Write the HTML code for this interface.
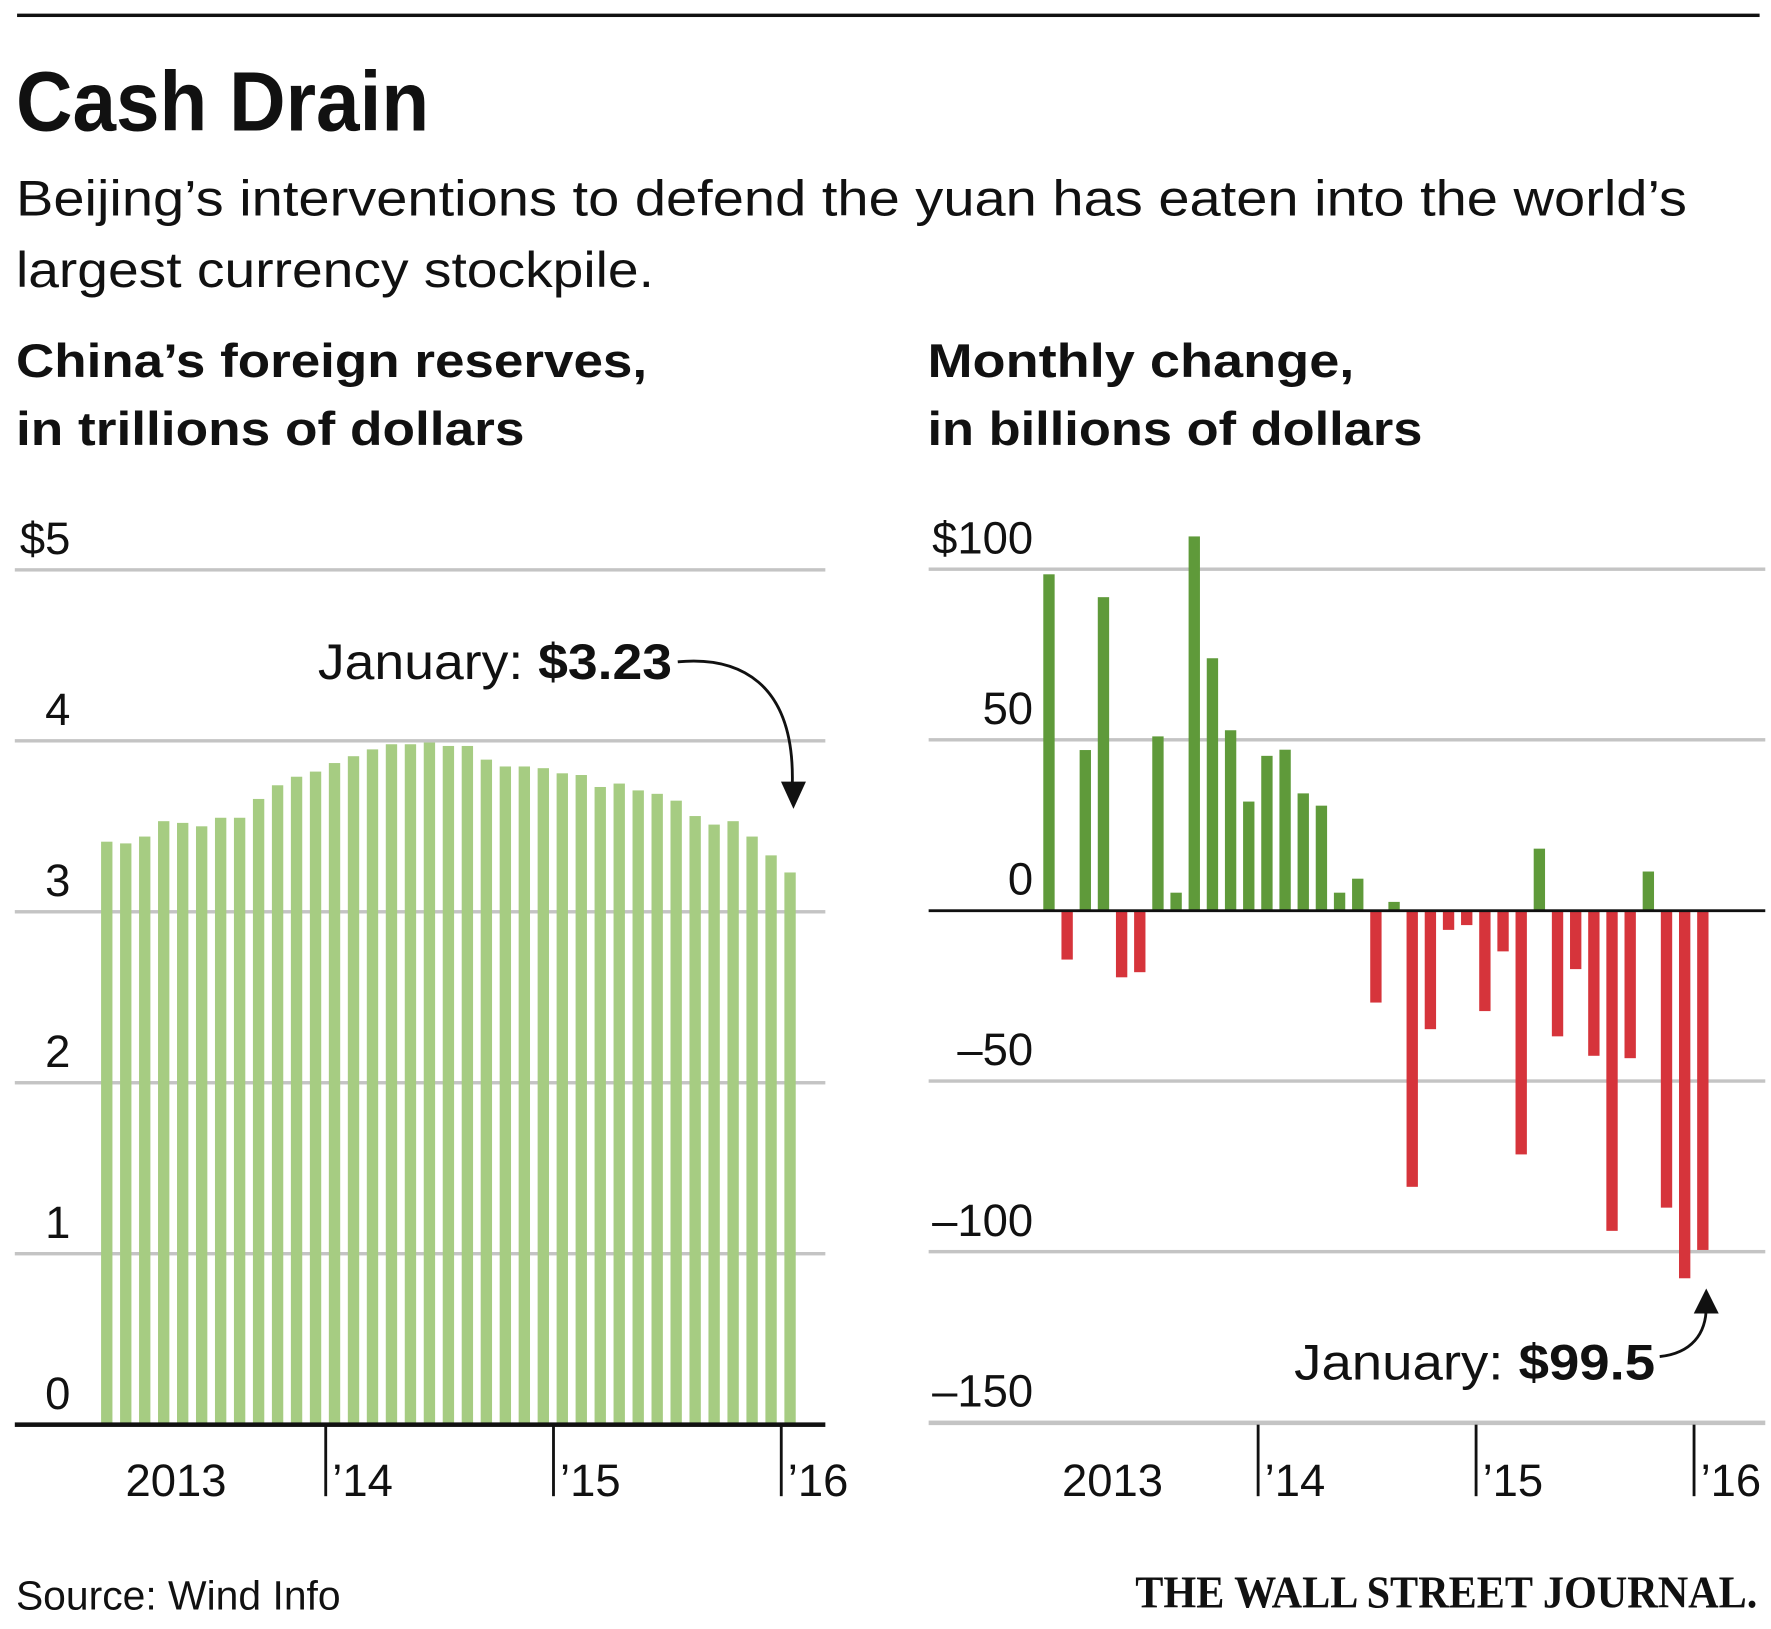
<!DOCTYPE html>
<html><head><meta charset="utf-8"><style>
html,body{margin:0;padding:0;background:#fff}
svg{display:block}
text{font-family:"Liberation Sans",sans-serif;fill:#111}
</style></head><body>
<svg id="c" width="1771" height="1629" viewBox="0 0 1560 1435" xmlns="http://www.w3.org/2000/svg">
<rect x="15" y="12" width="1535" height="3" fill="#111"/>
<text x="14" y="115" font-size="74" font-weight="bold" textLength="364" lengthAdjust="spacingAndGlyphs">Cash Drain</text>
<text x="14" y="190" font-size="44" textLength="1472" lengthAdjust="spacingAndGlyphs">Beijing’s interventions to defend the yuan has eaten into the world’s</text>
<text x="14" y="253" font-size="44" textLength="562" lengthAdjust="spacingAndGlyphs">largest currency stockpile.</text>
<text x="14" y="332" font-size="42" font-weight="bold" textLength="556" lengthAdjust="spacingAndGlyphs">China’s foreign reserves,</text>
<text x="14" y="392" font-size="42" font-weight="bold" textLength="448" lengthAdjust="spacingAndGlyphs">in trillions of dollars</text>
<text x="817" y="332" font-size="42" font-weight="bold" textLength="376" lengthAdjust="spacingAndGlyphs">Monthly change,</text>
<text x="817" y="392" font-size="42" font-weight="bold" textLength="436" lengthAdjust="spacingAndGlyphs">in billions of dollars</text>
<g id="left"></g>
<g id="right"></g>
<text x="14" y="1418" font-size="36" textLength="286" lengthAdjust="spacingAndGlyphs">Source: Wind Info</text>
<text x="1548" y="1416" font-size="40" font-weight="bold" text-anchor="end" textLength="548" lengthAdjust="spacingAndGlyphs" style="font-family:'Liberation Serif',serif">THE WALL STREET JOURNAL.</text>
</svg>
<script>
const reserves = [3.41,3.40,3.44,3.53,3.52,3.50,3.55,3.55,3.66,3.74,3.79,3.82,3.87,3.91,3.95,3.98,3.98,3.99,3.97,3.97,3.89,3.85,3.85,3.84,3.81,3.80,3.73,3.75,3.71,3.69,3.65,3.56,3.51,3.53,3.44,3.33,3.23];
const changes = [98.5,-14.4,47,91.8,-19.6,-18.1,51,5.2,109.6,73.9,52.8,31.9,45.3,47.1,34.3,30.7,5.2,9.3,-27,2.5,-81,-34.8,-5.7,-4.3,-29.5,-12,-71.5,18.1,-36.9,-17.2,-42.6,-93.9,-43.3,11.4,-87.1,-107.8,-99.5];
const leftTicks = ["0","1","2","3","4","$5"];
const leftTickVals = [0,1,2,3,4,5];
const rightTicks = ["–150","–100","–50","0","50","$100"];
const rightTickVals = [-150,-100,-50,0,50,100];
const yearLabels = ["2013","’14","’15","’16"];

const NS="http://www.w3.org/2000/svg";
function mk(parent,tag,attrs,txt){const e=document.createElementNS(NS,tag);for(const k in attrs)e.setAttribute(k,attrs[k]);if(txt!==undefined)e.textContent=txt;parent.appendChild(e);return e;}

// LEFT
const L=document.getElementById('left');
const ly=v=>1255-v*150.6;
const lx=i=>94+i*16.72;
leftTickVals.forEach((v,i)=>{
  if(v>0){const g=mk(L,'rect',{x:13,y:ly(v)-1.5,width:714,height:3,fill:'#c4c4c4'});
  
  }
  const t=mk(L,'text',{x:62,y:ly(v)-14,'font-size':40,'text-anchor':'end'},leftTicks[i]);
  
  
});
reserves.forEach((v,i)=>{
  const b=mk(L,'rect',{x:lx(i)-5,y:ly(v),width:10,height:ly(0)-ly(v),fill:'#a6cc82'});
  
  
});
{const a=mk(L,'rect',{x:13,y:1253,width:714,height:4,fill:'#111'});

}
[0,1,2,3].forEach(k=>{
  const tx=lx(k*12)-8;
  if(k>0){const t=mk(L,'rect',{x:tx-1,y:1255,width:2.5,height:63,fill:'#111'});
  
  }
  const lab=mk(L,'text',{x:k===0?155:tx+6,y:1318,'font-size':40,'text-anchor':k===0?'middle':'start'},yearLabels[k]);
  
  
});
{const t=mk(L,'text',{x:280,y:598,'font-size':44,textLength:312,lengthAdjust:'spacingAndGlyphs'});


mk(t,'tspan',{},'January: ');mk(t,'tspan',{'font-weight':'bold'},'$'+reserves[reserves.length-1].toFixed(2));
const p=mk(L,'path',{d:`M597,583 C650,578 700,600 ${lx(36)+2},${ly(reserves[36])-78}`,fill:'none',stroke:'#111','stroke-width':2.5});


const h=mk(L,'path',{d:`M${lx(36)-8},${ly(reserves[36])-80} L${lx(36)+14},${ly(reserves[36])-80} L${lx(36)+3},${ly(reserves[36])-56} Z`,fill:'#111'});

}

// RIGHT
const R=document.getElementById('right');
const ry=v=>802-v*3.006;
const rx=i=>924+i*16;
rightTickVals.forEach((v,i)=>{
  if(v!==0){const g=mk(R,'rect',{x:818,y:ry(v)-1.5,width:737,height:v===-150?4:3,fill:'#c4c4c4'});
  
  }
  const t=mk(R,'text',{x:910,y:ry(v)-14,'font-size':40,'text-anchor':'end'},rightTicks[i]);
  
  
});
changes.forEach((v,i)=>{
  const y0=Math.min(ry(v),ry(0)),h=Math.abs(ry(v)-ry(0));
  const b=mk(R,'rect',{x:rx(i)-5,y:y0,width:10,height:h,fill:v>=0?'#5f9a3a':'#d6343b'});
  
  
});
{const z=mk(R,'rect',{x:818,y:801,width:737,height:2.5,fill:'#111'});

}
[0,1,2,3].forEach(k=>{
  const tx=rx(k*12)-8;
  if(k>0){const t=mk(R,'rect',{x:tx-1,y:1255,width:2.5,height:63,fill:'#111'});
  
  }
  const lab=mk(R,'text',{x:k===0?980:tx+6,y:1318,'font-size':40,'text-anchor':k===0?'middle':'start'},yearLabels[k]);
  
  
});
{const t=mk(R,'text',{x:1140,y:1215,'font-size':44,textLength:318,lengthAdjust:'spacingAndGlyphs'});


mk(t,'tspan',{},'January: ');mk(t,'tspan',{'font-weight':'bold'},'$'+Math.abs(changes[36]).toFixed(1));
const bx=rx(36)+3, by=ry(changes[36])+40;
const p=mk(R,'path',{d:`M1462,1195 C1490,1192 ${bx},1175 ${bx},${by+10}`,fill:'none',stroke:'#111','stroke-width':2.5});


const h=mk(R,'path',{d:`M${bx-11},${by+16} L${bx+11},${by+16} L${bx},${by-6} Z`,fill:'#111'});

}
</script>
</body></html>
